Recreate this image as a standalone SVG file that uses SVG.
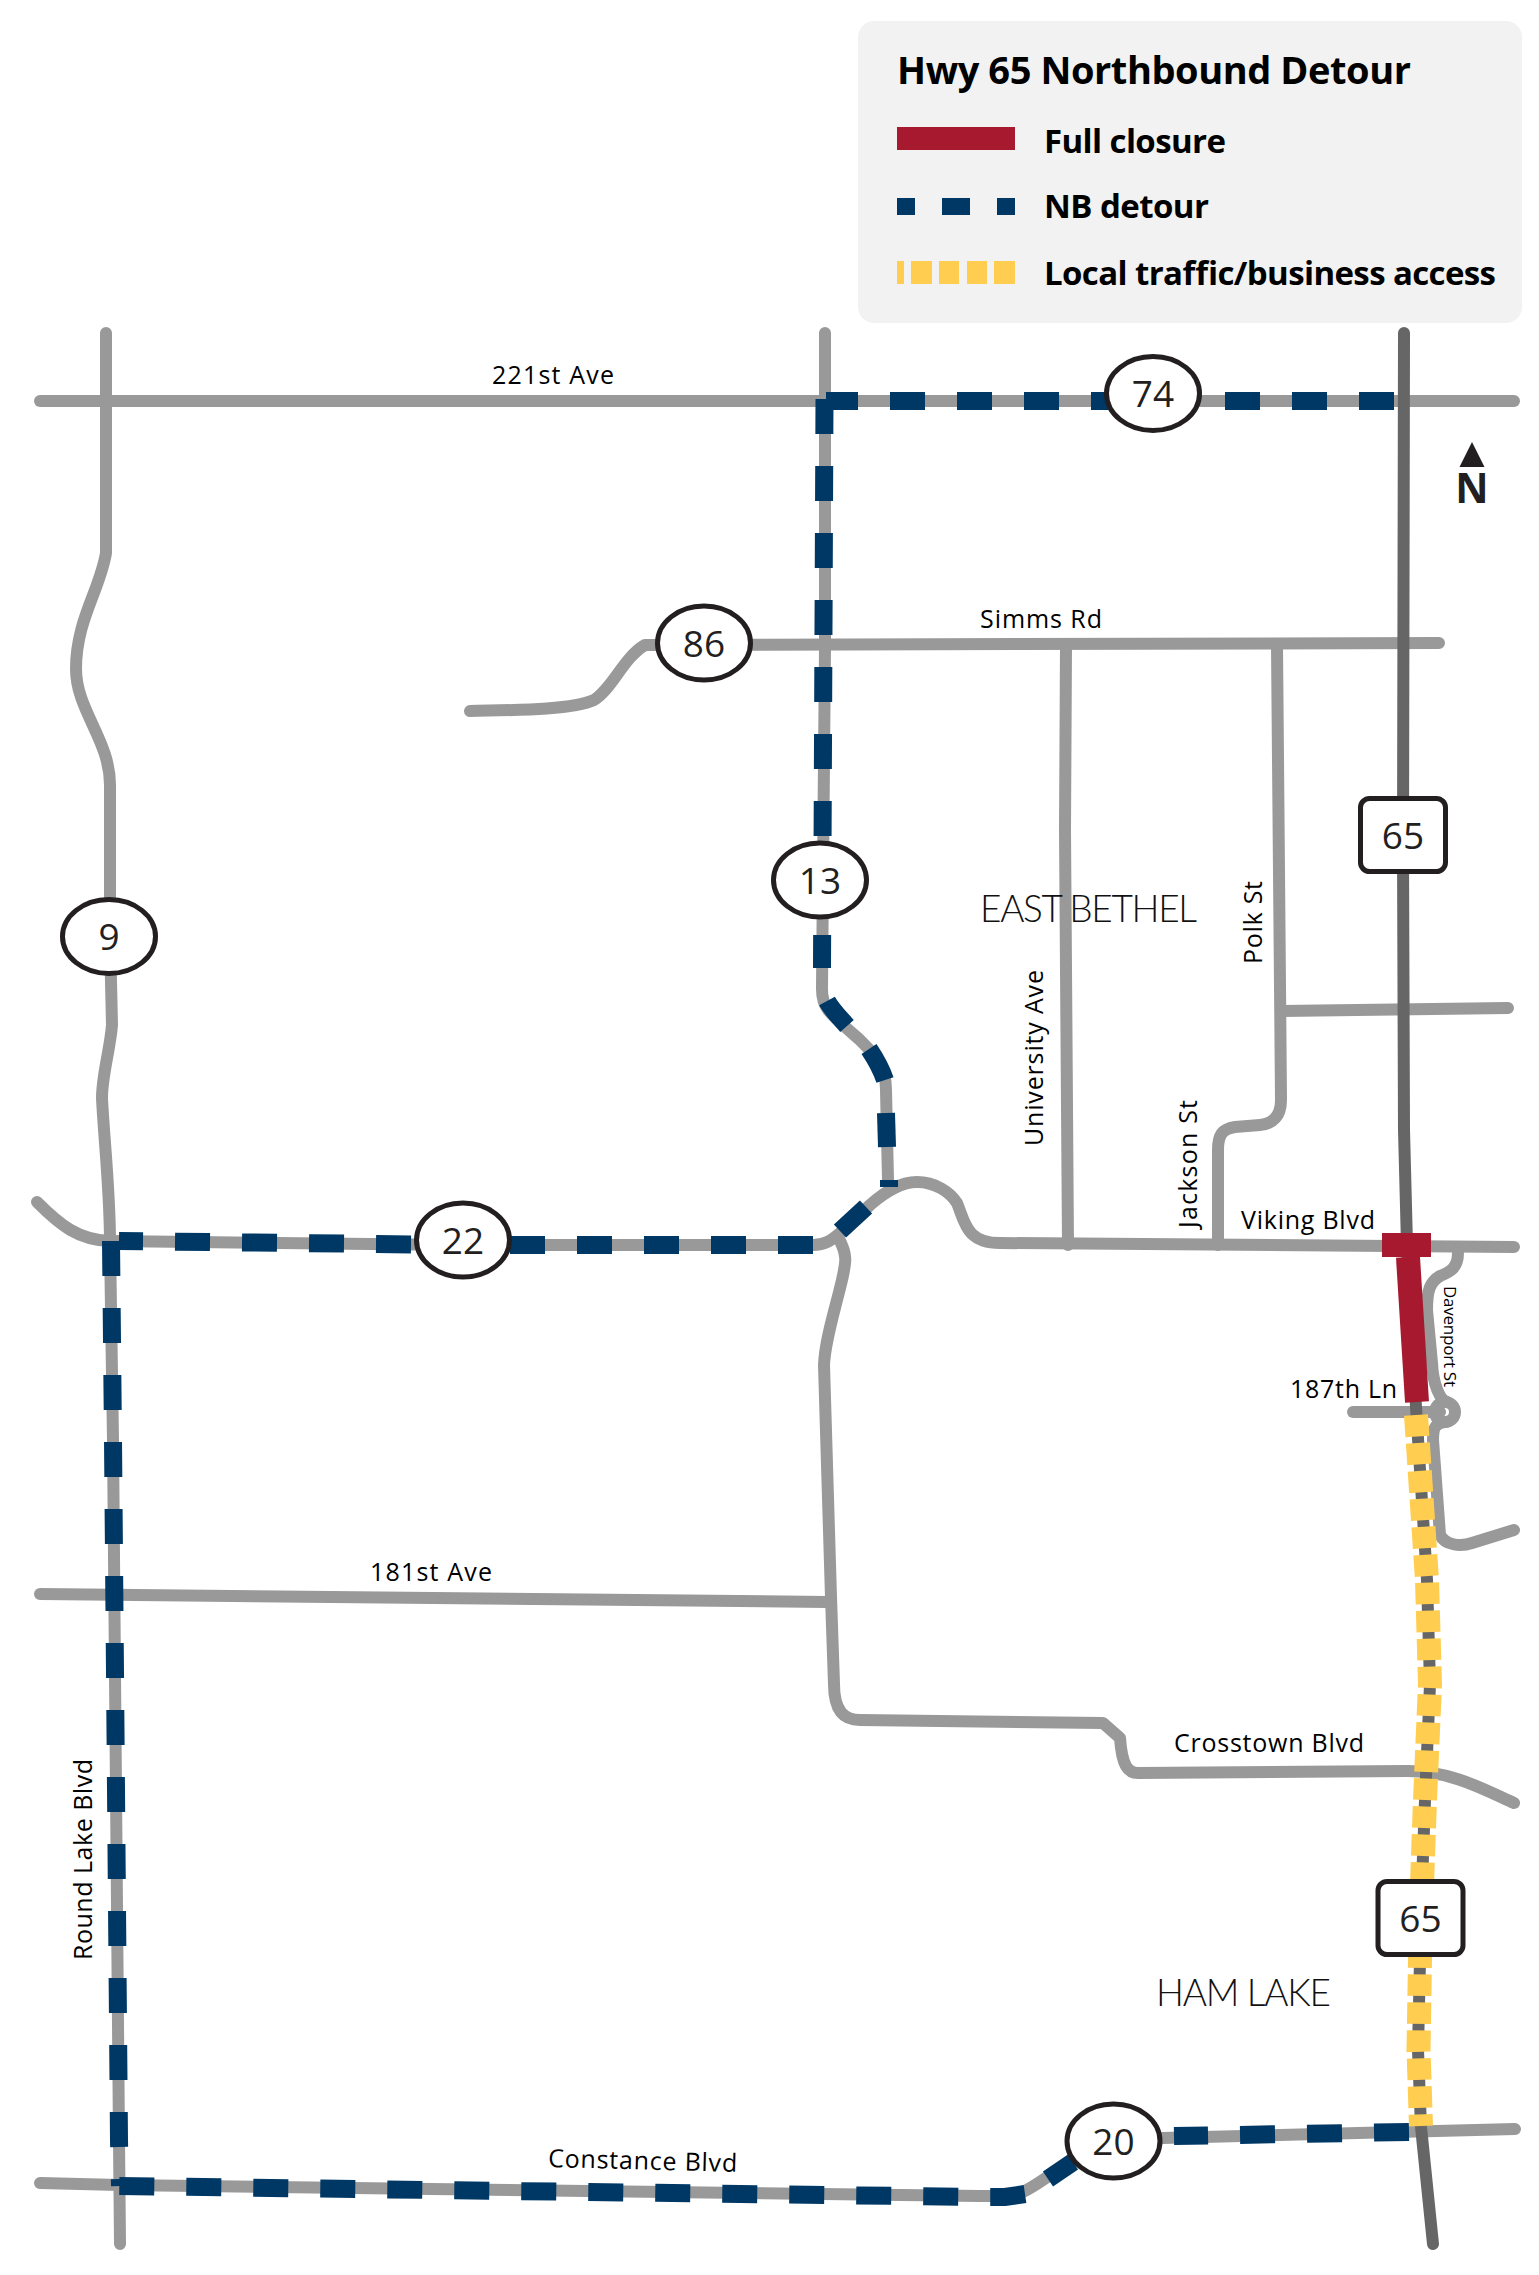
<svg xmlns="http://www.w3.org/2000/svg" width="1539" height="2275" viewBox="0 0 1539 2275">
<style>
.road{fill:none;stroke:#999;stroke-width:12;stroke-linecap:round;stroke-linejoin:round}
.hwy{fill:none;stroke:#666;stroke-width:12;stroke-linecap:round;stroke-linejoin:round}
.det{fill:none;stroke:#003865;stroke-width:18;stroke-dasharray:35 32;stroke-linejoin:miter}
.dash{fill:none;stroke:#003865;stroke-width:18}
.loc{fill:none;stroke:#ffcd50;stroke-width:24;stroke-dasharray:21.5 6.5}
.sh{fill:#fff;stroke:#231f20;stroke-width:5}
.num{font-family:"Open Sans",sans-serif;font-weight:500;font-size:37px;fill:#231f20;text-anchor:middle}
.lab{font-family:"Open Sans",sans-serif;font-size:25px;fill:#000}
.city{font-family:"Lato",sans-serif;font-weight:300;font-size:37px;fill:#111}
.leg{font-family:"Open Sans",sans-serif;font-weight:700;font-size:33px;fill:#000}
</style>
<rect width="1539" height="2275" fill="#fff"/>
<g id="connectors">
<g id="roads">
<path class="road" d="M40 401H1514"/>
<path class="road" d="M106 333V553C100 590 76 620 76 669C76 710 110 740 110 785V938L112 1025C110 1050 102 1075 102 1098C104 1140 110 1190 110 1243L113 1440L119 2140L120 2244"/>
<path class="road" d="M37 1202C60 1225 78 1240 110 1241L464 1245H813C825 1245 832 1240 840 1233L870 1205C885 1192 900 1182 917 1182C935 1182 950 1192 957 1203C965 1222 966 1243 1000 1243L1514 1247"/>
<path class="road" d="M825 333V647L822 989C822 1008 828 1012 860 1040C875 1055 886 1065 886 1090L888 1180"/>
<path class="road" d="M838 1237C848 1255 846 1262 842 1280C835 1310 825 1340 824 1365L831 1597L834 1684C834 1712 845 1720 860 1720L1103 1723L1120 1738C1122 1766 1128 1773 1138 1773L1408 1771C1452 1771 1485 1790 1514 1803"/>
<path class="road" d="M40 1594L827 1602"/>
<path class="road" d="M470 711C500 710 570 711 594 700C613 688 623 658 645 645L1439 643"/>
<path class="road" d="M1066 645L1065 830L1068 1245"/>
<path class="road" d="M1277 645L1281 1100C1281 1116 1273 1124 1260 1125L1235 1127C1222 1129 1218 1135 1218 1150V1245"/>
<path class="road" d="M1281 1011L1508 1008"/>
<path class="road" d="M40 2183L119 2185L980 2196H1005C1025 2196 1040 2180 1062 2168C1085 2150 1100 2142 1163 2138L1515 2129"/>
<path class="road" d="M1458 1253C1458 1268 1450 1272 1440 1276C1430 1282 1427 1290 1427 1310L1432 1363C1433 1385 1440 1400 1447 1402"/>
<path class="road" d="M1353 1412H1440"/>
<circle cx="1445" cy="1412" r="10" fill="none" stroke="#999" stroke-width="12"/>
<path class="road" d="M1445 1422C1436 1424 1433 1426 1433 1440L1440 1535C1445 1545 1460 1547 1472 1543L1514 1530"/>
</g>
<path id="hwy65" class="hwy" d="M1404 333L1403 850L1404 1130L1407 1245L1416 1407L1427 1580L1430 1684L1425 1800L1422.500 1870L1420 1960L1418 2050L1421 2127L1433 2244"/>
<path id="closure-road" d="M1408 1257L1417 1402" fill="none" stroke="#a6192e" stroke-width="24"/>
<rect id="closure-bar" x="1382" y="1233" width="49" height="24" fill="#a6192e"/>
<g id="detour">
<path class="det" d="M1394 401H826"/>
<path class="det" d="M824.500 399L822 968"/>
<path class="dash" d="M827 1001C832 1010 840 1018 847 1026"/>
<path class="dash" d="M869 1049C875 1058 881 1068 885 1080"/>
<path class="dash" d="M886 1113L887 1147"/>
<path class="dash" d="M889 1180V1187"/>
<path class="dash" d="M866 1207L840 1231"/>
<path class="det" d="M813 1245H464L119 1241"/>
<path class="det" d="M111 1241L113 1440L119 2140L120 2186"/>
<path class="det" d="M1409 2132L1174 2136"/>
<path class="dash" d="M1073 2162L1048 2179"/>
<path class="det" d="M1025 2194L1005 2197H980L119 2186"/>
</g>
<path id="local" class="loc" d="M1416 1415L1427 1580L1430 1684L1425 1800L1422.500 1870L1420 1960L1418.500 2050L1421 2126"/>
</g>
<g id="legend">
<rect x="858" y="21" width="664" height="302" rx="16" fill="#f2f2f2"/>
<text class="leg" x="897" y="84" style="font-size:38px" textLength="514">Hwy 65 Northbound Detour</text>
<rect x="897" y="127" width="118" height="23" fill="#a6192e"/>
<g fill="#003865"><rect x="897" y="198" width="18" height="17"/><rect x="942" y="198" width="28" height="17"/><rect x="997" y="198" width="18" height="17"/></g>
<g fill="#ffcd50"><rect x="897" y="261" width="7" height="23"/><rect x="911" y="261" width="21" height="23"/><rect x="939" y="261" width="20" height="23"/><rect x="967" y="261" width="20" height="23"/><rect x="994" y="261" width="21" height="23"/></g>
<text class="leg" x="1044" y="153" textLength="182">Full closure</text>
<text class="leg" x="1044" y="218" textLength="165">NB detour</text>
<text class="leg" x="1044" y="285" textLength="452">Local traffic/business access</text>
</g>
<g id="north"><path d="M1472 442L1459.500 467H1484.500Z" fill="#231f20"/><text x="1472" y="503" text-anchor="middle" style="font-family:'Open Sans',sans-serif;font-weight:700;font-size:41px" fill="#231f20">N</text></g>
<g id="shield-74"><ellipse class="sh" cx="1153" cy="393.500" rx="46.500" ry="37"/><text class="num" x="1153" y="407">74</text></g>
<g id="shield-86"><ellipse class="sh" cx="704" cy="643" rx="46.500" ry="37"/><text class="num" x="704" y="657">86</text></g>
<g id="shield-13"><ellipse class="sh" cx="820" cy="880" rx="46.500" ry="37"/><text class="num" x="820" y="894">13</text></g>
<g id="shield-9"><ellipse class="sh" cx="109" cy="936.500" rx="46.500" ry="37"/><text class="num" x="109" y="950">9</text></g>
<g id="shield-22"><ellipse class="sh" cx="463" cy="1240" rx="46.500" ry="37"/><text class="num" x="463" y="1254">22</text></g>
<g id="shield-20"><ellipse class="sh" cx="1113.500" cy="2141" rx="46.500" ry="37"/><text class="num" x="1113.500" y="2155">20</text></g>
<g id="shield-65-north"><rect class="sh" x="1360.500" y="798.500" width="85" height="73" rx="9"/><text class="num" x="1403" y="849">65</text></g>
<g id="shield-65-south"><rect class="sh" x="1378" y="1881.500" width="85" height="73" rx="9"/><text class="num" x="1420.500" y="1932">65</text></g>
<g id="labels">
<text class="lab" x="492" y="384" textLength="122">221st Ave</text>
<text class="lab" x="980" y="628" textLength="122">Simms Rd</text>
<text class="city" x="980" y="922" textLength="217">EAST BETHEL</text>
<text class="city" x="1156" y="2006" textLength="175">HAM LAKE</text>
<text class="lab" transform="translate(1043 1146) rotate(-90)" textLength="176">University Ave</text>
<text class="lab" transform="translate(1262 964) rotate(-90)" textLength="83">Polk St</text>
<text class="lab" transform="translate(1197 1228) rotate(-90)" textLength="128">Jackson St</text>
<text class="lab" x="1241" y="1229" textLength="134">Viking Blvd</text>
<text class="lab" transform="translate(1444 1286) rotate(90)" style="font-size:17px" textLength="101">Davenport St</text>
<text class="lab" x="1290" y="1398" textLength="107">187th Ln</text>
<text class="lab" x="370" y="1581" textLength="122">181st Ave</text>
<text class="lab" x="1174" y="1752" textLength="190">Crosstown Blvd</text>
<text class="lab" transform="translate(548 2167) rotate(1.500)" textLength="189">Constance Blvd</text>
<text class="lab" transform="translate(92 1960) rotate(-90)" textLength="201">Round Lake Blvd</text>
</g>
</svg>
